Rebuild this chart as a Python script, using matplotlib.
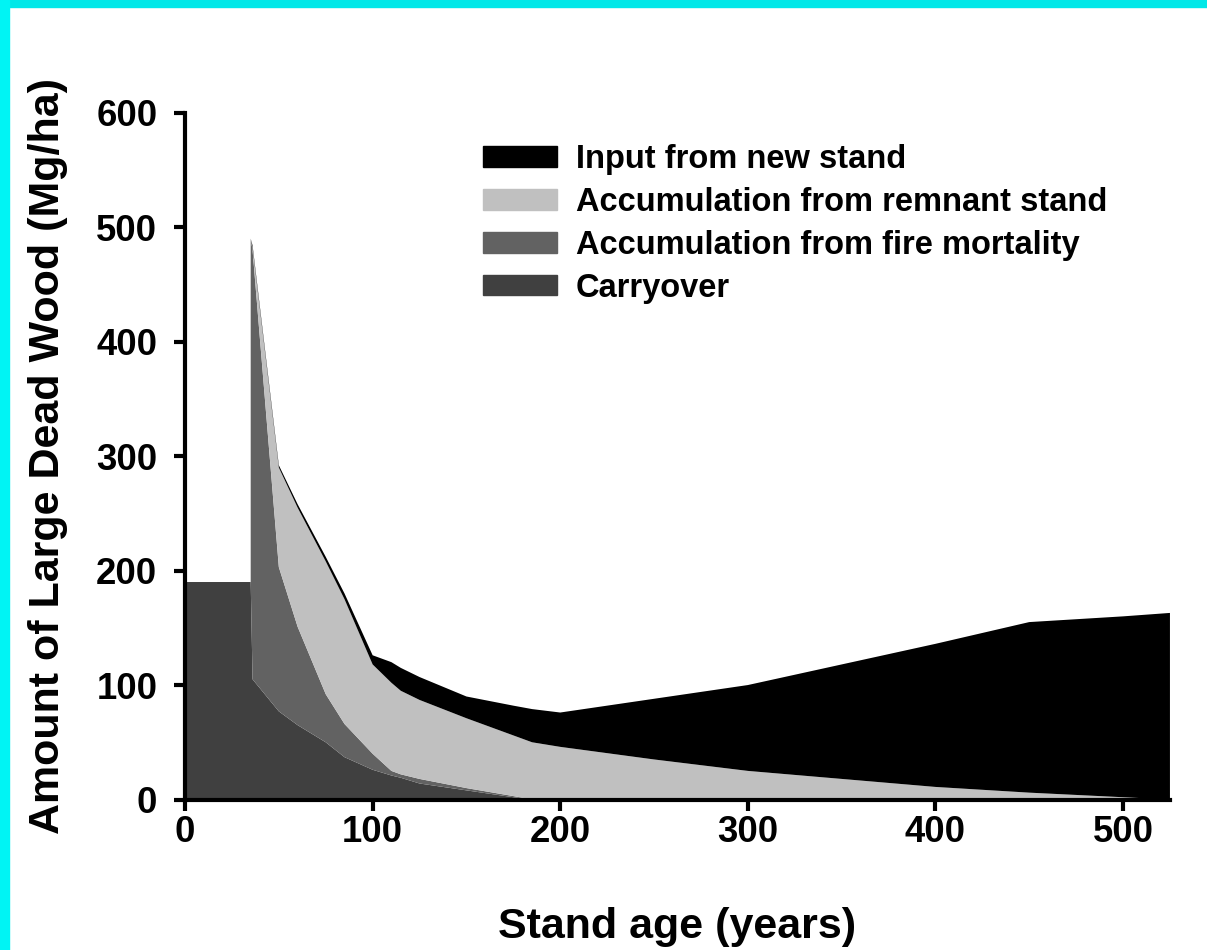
import matplotlib
matplotlib.use("Agg")
import matplotlib.pyplot as plt
from matplotlib.patches import Patch, Rectangle

plt.rcParams["font.family"] = ["Liberation Sans", "DejaVu Sans"]
plt.rcParams["font.weight"] = "bold"

# stand age (years) and stacked layer amounts (Mg/ha)
ages = [0, 35, 35, 36, 50, 60, 75, 85, 100, 110, 115, 125, 150, 175, 185,
        200, 250, 300, 350, 400, 450, 500, 525]
carryover = [190, 190, 190, 105, 77, 65, 50, 37, 26, 21, 19, 14, 8, 2, 0,
             0, 0, 0, 0, 0, 0, 0, 0]
fire_mortality = [0, 0, 300, 375, 126, 86, 42, 29, 14, 4, 3, 4, 2, 1, 0,
                  0, 0, 0, 0, 0, 0, 0, 0]
remnant_stand = [0, 0, 0, 2, 87, 104, 116, 109, 78, 77, 73, 69, 61, 53, 50,
                 46, 35, 25, 18, 11, 6, 2, 0]
new_stand = [0, 0, 0, 2, 2, 3, 4, 5, 8, 18, 20, 20, 19, 26, 29,
             30, 53, 75, 100, 125, 149, 158, 163]

labels = ["Carryover", "Accumulation from fire mortality",
          "Accumulation from remnant stand", "Input from new stand"]
colors = ["#404040", "#626262", "#c0c0c0", "#000000"]

fig = plt.figure(figsize=(12.07, 9.5), dpi=100)
# cyan frame on top and left
fig.patches.append(Rectangle((0, 1 - 7 / 950), 1, 7 / 950, transform=fig.transFigure,
                             color="#00e8e8", zorder=0))
fig.patches.append(Rectangle((0, 0), 9 / 1207, 1, transform=fig.transFigure,
                             color="#00f4f4", zorder=0))

ax = fig.add_axes([0.1533, 0.1584, 0.8160, 0.7230])
ax.stackplot(ages, carryover, fire_mortality, remnant_stand, new_stand,
             colors=colors, linewidth=0)

ax.set_xlim(0, 525)
ax.set_ylim(0, 600)
ax.set_xticks([0, 100, 200, 300, 400, 500])
ax.set_yticks([0, 100, 200, 300, 400, 500, 600])

for side in ("top", "right"):
    ax.spines[side].set_visible(False)
for side in ("left", "bottom"):
    ax.spines[side].set_linewidth(3)
ax.tick_params(axis="both", length=8, width=3, labelsize=26.3)
ax.tick_params(axis="y", pad=12)
ax.tick_params(axis="x", pad=3)

ax.set_xlabel("Stand age (years)", fontsize=31, fontweight="bold", labelpad=41)
ax.set_ylabel("Amount of Large Dead Wood (Mg/ha)", fontsize=31, fontweight="bold",
              labelpad=20)

handles = [Patch(color=c, label=l) for c, l in zip(colors, labels)][::-1]
ax.legend(handles=handles, loc="upper left", bbox_to_anchor=(0.3025, 0.954),
          frameon=False, fontsize=23.5, handlelength=2.27, handleheight=0.6,
          handletextpad=0.58, labelspacing=0.36, borderaxespad=0, borderpad=0)

fig.savefig("out.png", dpi=100)
